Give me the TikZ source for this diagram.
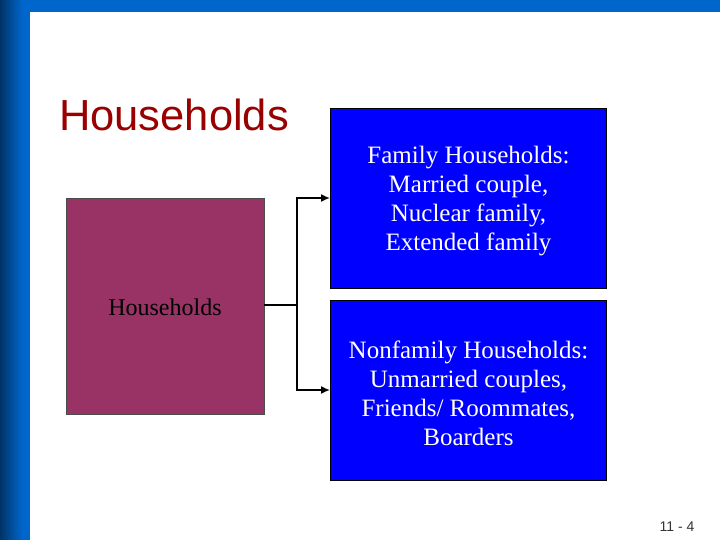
\documentclass[tikz,border=0pt]{standalone}
\usepackage{fontspec}
\setmainfont{Liberation Serif}
\newfontfamily\arialf{Liberation Sans}
\usetikzlibrary{arrows.meta}
\definecolor{barblue}{HTML}{0066CC}
\definecolor{bardark}{HTML}{003366}
\definecolor{plum}{HTML}{993366}
\definecolor{titlered}{HTML}{990000}
\tikzset{
  bluebox/.style={draw=black, line width=0.8pt, fill=blue, minimum width=276pt, minimum height=180pt, inner sep=0pt},
  boxtext/.style={align=center, text=white, font=\fontsize{25}{29}\selectfont, inner sep=0pt},
  plumbox/.style={draw=black!70, line width=0.6pt, fill=plum, minimum width=198pt, minimum height=216pt, inner sep=0pt},
  conn/.style={line width=2.5pt, -{Latex[length=9pt,width=8pt]}},
}
\begin{document}
\begin{tikzpicture}[x=1pt,y=-1pt]
\useasboundingbox (0,0) rectangle (720,540);
\fill[white] (0,0) rectangle (720,540);
\fill[barblue] (0,0) rectangle (720,12);
\shade[left color=bardark, right color=barblue] (0,0) rectangle (22,540);
\fill[barblue] (22,0) rectangle (30,540);
\node[anchor=west, text=titlered, font=\arialf\fontsize{43.5}{50}\selectfont, inner sep=0pt] (title) at (59,115) {Households};
\node[plumbox] (hh) at (165,306) {};
\node[font=\fontsize{24}{29}\selectfont, inner sep=0pt] (hhlabel) at (165,307) {Households};
\node[bluebox] (fam) at (468.5,198) {};
\node[boxtext] (famtxt) at (468.5,201) {Family Households:\\Married couple,\\Nuclear family,\\Extended family};
\node[bluebox] (nonfam) at (468.5,390) {};
\node[boxtext] (nonfamtxt) at (468.5,393) {Nonfamily Households:\\Unmarried couples,\\Friends/ Roommates,\\Boarders};
\coordinate (split) at (297,305);
\draw[line width=2.5pt] (hh.east |- split) -- (split);
\draw[conn] (split) |- (fam.west);
\draw[conn] (split) |- (nonfam.west);
\node[font=\arialf\fontsize{14}{16}\selectfont, text=black!80, inner sep=0pt] (pg) at (677,527) {11 - 4};
\end{tikzpicture}
\end{document}
